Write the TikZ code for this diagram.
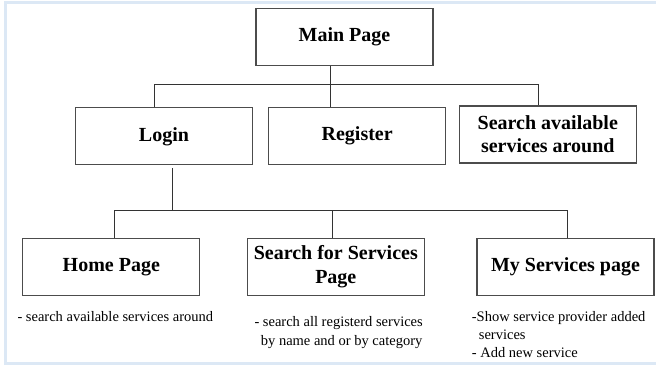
\documentclass[tikz,border=0pt]{standalone}
\usepackage{fontspec}
\setmainfont{Liberation Serif}
\usetikzlibrary{positioning}
\definecolor{framecol}{RGB}{220,232,245}
\tikzstyle{pagebox} = [rectangle, draw=black!70, line width=1.2pt, minimum width=177pt, minimum height=57pt, inner sep=0pt, align=center, font=\fontsize{20}{23.3}\selectfont\bfseries]
\tikzstyle{link} = [draw=black!80, line width=0.9pt]
\tikzstyle{note} = [inner sep=0pt, align=left, font=\fontsize{14.5}{18.3}\selectfont]

\begin{document}
\begin{tikzpicture}[x=1pt,y=-1pt]
\useasboundingbox (0,0) rectangle (656,366);
\draw [framecol, line width=2.5pt] (656,2.5) -- (5.5,2.5) -- (5.5,363.5) -- (656,363.5);
\node [pagebox] (main) at (344.5,36.7) {Main Page};
\node [pagebox] (login) at (164,136.3) {Login};
\node [pagebox] (register) at (357.2,135.7) {Register};
\node [pagebox] (search) at (547.8,134.5) {Search available\\services around};
\node [pagebox] (home) at (111.3,266.8) {Home Page};
\node [pagebox] (findpage) at (335.8,266.7) {Search for Services\\Page};
\node [pagebox] (myservices) at (565.5,266.7) {My Services page};
\coordinate (topL) at (154.7,84.3);
\coordinate (topM) at (330.3,84.3);
\coordinate (topR) at (538.3,84.3);
\draw [link] (topL |- login.north) -- (topL) -- (topR) -- (topR |- search.north);
\draw [link] (main.south -| topM) -- (register.north -| topM);
\coordinate (loginM) at (172.3,210.7);
\coordinate (lowL) at (114,210.7);
\coordinate (lowM) at (332.7,210.7);
\coordinate (lowR) at (567.7,210.7);
\draw [link] ([yshift=-3pt]login.south -| loginM) -- (loginM);
\draw [link] (home.north -| lowL) -- (lowL) -- (lowR) -- (myservices.north -| lowR);
\draw [link] (lowM) -- (findpage.north -| lowM);
\node [note, anchor=base west] (homenote) at (17.3,321.5) {- search available services around};
\node [note, anchor=base west] (findnote) at (254.3,345) {- search all registerd services\\\hspace*{6.4pt}by name and or by category};
\node [note, anchor=base west] (mynote) at (471.7,357.7) {-Show service provider added\\\hspace*{7pt}services\\- Add new service};
\end{tikzpicture}
\end{document}
